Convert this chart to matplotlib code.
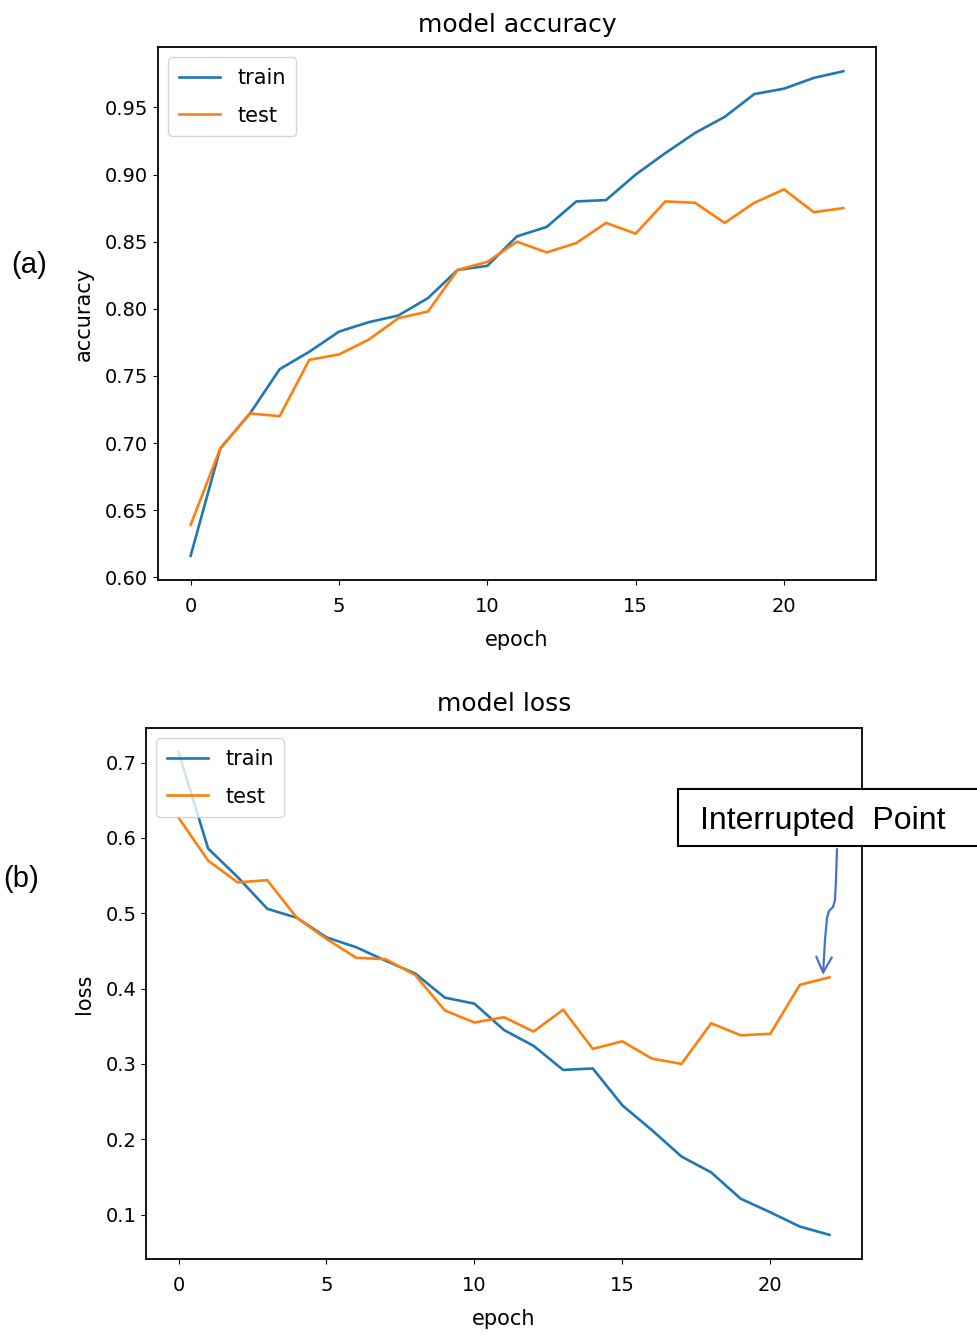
import matplotlib.pyplot as plt
from matplotlib.patches import Rectangle, FancyArrowPatch
from matplotlib.path import Path

# valores
epochs = list(range(23))
acc_train = [0.616, 0.696, 0.722, 0.755, 0.768, 0.783, 0.790, 0.795, 0.808, 0.829,
             0.832, 0.854, 0.861, 0.880, 0.881, 0.900, 0.916, 0.931, 0.943, 0.960,
             0.964, 0.972, 0.977]
acc_test = [0.639, 0.696, 0.722, 0.720, 0.762, 0.766, 0.777, 0.793, 0.798, 0.829,
            0.835, 0.850, 0.842, 0.849, 0.864, 0.856, 0.880, 0.879, 0.864, 0.879,
            0.889, 0.872, 0.875]
loss_train = [0.714, 0.586, 0.548, 0.506, 0.494, 0.468, 0.455, 0.437, 0.420, 0.388,
              0.380, 0.345, 0.324, 0.292, 0.294, 0.245, 0.212, 0.177, 0.156, 0.121,
              0.103, 0.084, 0.073]
loss_test = [0.627, 0.570, 0.541, 0.544, 0.494, 0.466, 0.441, 0.439, 0.418, 0.371,
             0.355, 0.362, 0.343, 0.372, 0.320, 0.330, 0.307, 0.300, 0.354, 0.338,
             0.340, 0.405, 0.415]

W, H = 977, 1340
fig = plt.figure(figsize=(W / 100, H / 100), dpi=100)

# Grafico (a): accuracy
ax1 = fig.add_axes([158 / W, 1 - 580 / H, (876 - 158) / W, (580 - 47) / H])
ax1.plot(epochs, acc_train, lw=1.9, label='train')
ax1.plot(epochs, acc_test, lw=1.9, label='test')
ax1.set_title('model accuracy', fontsize=18, pad=11)
ax1.set_ylabel('accuracy', fontsize=15, labelpad=8)
ax1.set_xlabel('epoch', fontsize=15, labelpad=10)
ax1.set_yticks([0.60, 0.65, 0.70, 0.75, 0.80, 0.85, 0.90, 0.95])

# Grafico (b): loss
ax2 = fig.add_axes([146 / W, 1 - 1259 / H, (862 - 146) / W, (1259 - 728) / H])
ax2.plot(epochs, loss_train, lw=1.9, label='train')
ax2.plot(epochs, loss_test, lw=1.9, label='test')
ax2.set_title('model loss', fontsize=18, pad=12)
ax2.set_ylabel('loss', fontsize=15, labelpad=8)
ax2.set_xlabel('epoch', fontsize=15, labelpad=10)

for ax in (ax1, ax2):
    ax.tick_params(labelsize=14)
    ax.tick_params(axis='x', pad=9)
    ax.legend(loc='upper left', fontsize=15, labelspacing=0.85, borderpad=0.5)
    for s in ax.spines.values():
        s.set_linewidth(1.3)

# etiquetas (a) y (b)
fig.text(11 / W, 1 - 265 / H, '(a)', va='center', fontsize=21, family='Liberation Sans')
fig.text(3 / W, 1 - 879 / H, '(b)', va='center', fontsize=21, family='Liberation Sans')

# caja "Interrupted Point"
caja = Rectangle((678 / W, 1 - 846 / H), (1000 - 678) / W, 57 / H,
                 transform=fig.transFigure, facecolor='white', edgecolor='black',
                 lw=1.5, zorder=5)
fig.add_artist(caja)
fig.text(700 / W, 1 - 829 / H, 'Interrupted  Point', va='baseline', fontsize=23,
         family='Liberation Sans', zorder=6)

# flecha azul
pts = [(837, 849), (836, 880), (835, 900), (833, 907), (829, 911), (827, 918),
       (825, 940), (823, 975)]
verts = [(x / W, 1 - y / H) for x, y in pts]
codes = [Path.MOVETO] + [Path.LINETO] * (len(pts) - 1)
flecha = FancyArrowPatch(path=Path(verts, codes), arrowstyle='->', mutation_scale=28,
                         color='#4472C4', lw=1.6, transform=fig.transFigure, zorder=6)
fig.add_artist(flecha)

fig.savefig('out.png', dpi=100)
